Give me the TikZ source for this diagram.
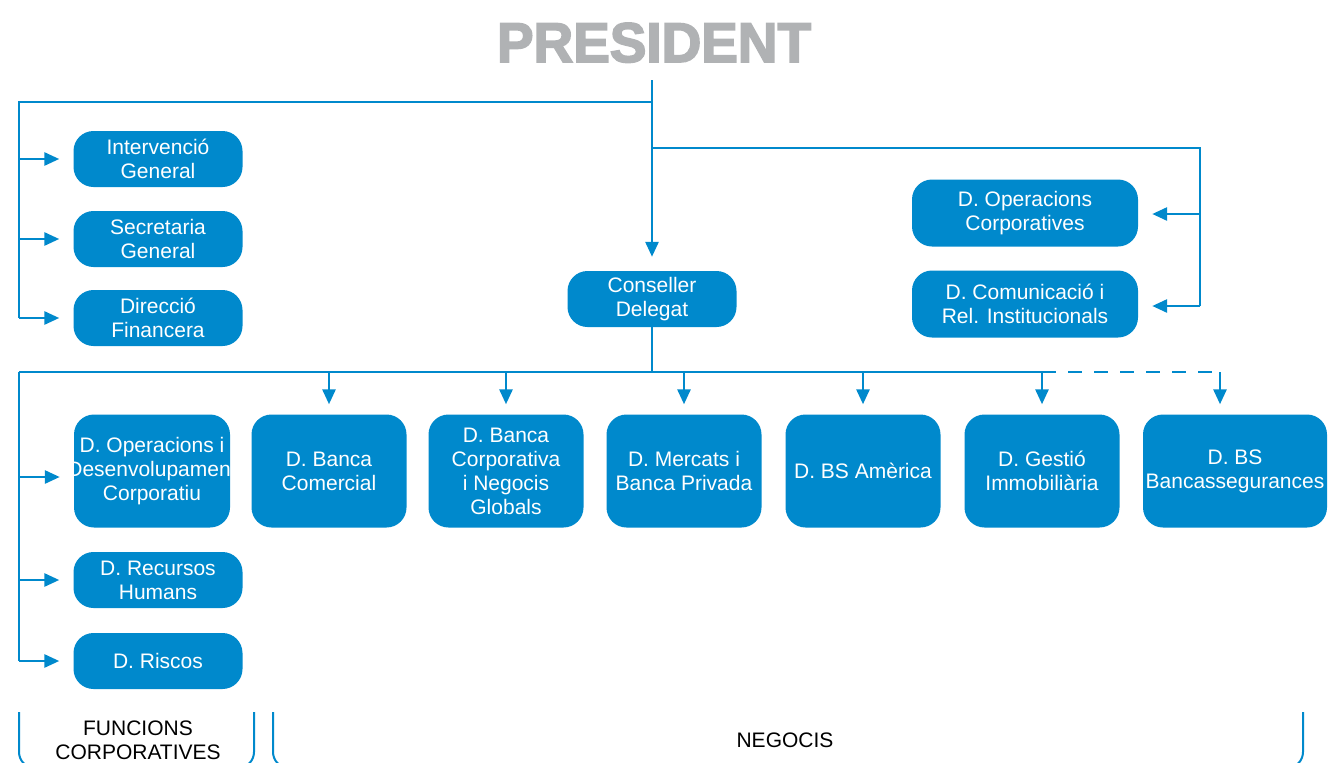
\documentclass[tikz,border=0pt]{standalone}
\usepackage{fontspec}
\setmainfont{Liberation Sans}
\newfontfamily\presfont{Liberation Sans Bold}[FakeBold=3, FakeStretch=0.98]
\usepackage{tikz}
\usetikzlibrary{arrows.meta, positioning, calc}

\definecolor{caixablue}{RGB}{0,137,204}
\definecolor{presgray}{RGB}{176,178,180}

\tikzset{
    line/.style={caixablue, line width=2.8pt},
    arrow/.style={line, -{Triangle[length=15pt,width=13pt]}, shorten >=14pt},
    unit/.style={fill=caixablue, text=white, rounded corners=20pt, inner sep=0pt,
        align=center, font=\fontsize{21}{24}\selectfont},
    small/.style={unit, minimum width=169pt, minimum height=56pt},
    tall/.style={unit, minimum width=155pt, minimum height=113pt},
    brace/.style={line, line width=2pt, rounded corners=16pt},
}

\begin{document}
\begin{tikzpicture}[x=1pt, y=-1pt]
        \useasboundingbox (0,0) rectangle (1328,763);
        \clip (0,0) rectangle (1328,763);

        % top
        \node[anchor=base, text=presgray, font=\presfont\fontsize{56}{56}\selectfont] (pres) at (654,62) {PRESIDENT};
        \node[small] (cons) at (652,299) {Conseller\\Delegat};

        % functions hanging from the president
        \node[small] (int)  at (158,159) {Intervenció\\General};
        \node[small] (sec)  at (158,239) {Secretaria\\General};
        \node[small] (fin)  at (158,318) {Direcció\\Financera};
        \node[unit, minimum width=226pt, minimum height=67pt] (opc) at (1025,213) {D. Operacions\\Corporatives};
        \node[unit, minimum width=226pt, minimum height=67pt] (com) at (1025,304) {D. Comunicació i\\Rel. Institucionals};

        % functions under the conseller
        \node[tall, minimum width=156pt] (dop) at (152,471) {D. Operacions i\\\makebox[0pt]{Desenvolupament}\\Corporatiu};
        \node[small] (rrhh) at (158,580) {D. Recursos\\Humans};
        \node[small] (risc) at (158,661) {D. Riscos};

        % business units
        \node[tall] (bcom)  at (329,471) {D. Banca\\Comercial};
        \node[tall] (bcorp) at (506,471) {D. Banca\\Corporativa\\i Negocis\\Globals};
        \node[tall] (merc)  at (684,471) {D. Mercats i\\Banca Privada};
        \node[tall] (bsam)  at (863,471) {D. BS Amèrica};
        \node[tall] (gest)  at (1042,471) {D. Gestió\\Immobiliària};
        \node[tall, minimum width=184pt] (bsb) at (1235,471) {D. BS\\Bancassegurances};

        % connectors from the president
        \coordinate (top) at (652,80);
        \coordinate (jl) at (652,102);
        \coordinate (lt) at (19,102);
        \coordinate (jr) at (652,148);
        \coordinate (rt) at (1200,148);
        \draw[arrow] (top) -- (cons.north);
        \draw[line] (jl) -- (lt) -- (lt |- fin);
        \foreach \n in {int,sec,fin}
            \draw[arrow] (lt |- \n) -- (\n.west);
        \draw[line] (jr) -- (rt) -- ($(rt |- com)+(0,2)$);
        \draw[arrow] ($(rt |- opc)+(0,1)$) -- ($(opc.east)+(0,1)$);
        \draw[arrow] ($(rt |- com)+(0,2)$) -- ($(com.east)+(0,2)$);

        % connectors from the conseller
        \coordinate (bus) at (652,372);
        \coordinate (bl) at (19,372);
        \coordinate (bsdrop) at (1220,372);
        \draw[line] (cons.south) -- (bus);
        \draw[line] (bl) -- (gest.north |- bus);
        \draw[line, dash pattern=on 14pt off 12pt] (gest.north |- bus) -- (bsdrop);
        \foreach \n in {bcom,bcorp,merc,bsam,gest}
            \draw[arrow, shorten >=10pt] (\n.north |- bus) -- (\n.north);
        \draw[arrow, shorten >=10pt] (bsdrop) -- (bsdrop |- bsb.north);
        \draw[line] (bl) -- (bl |- risc);
        \draw[arrow] ($(bl |- dop)+(0,6)$) -- ($(dop.west)+(0,6)$);
        \draw[arrow] (bl |- rrhh) -- (rrhh.west);
        \draw[arrow] (bl |- risc) -- (risc.west);

        % groups at the foot
        \draw[brace] (19,712) -- (19,768) -- (254,768) -- (254,712);
        \draw[brace] (273,712) -- (273,768) -- (1303,768) -- (1303,712);
        \node[align=center, font=\fontsize{21}{24}\selectfont] (fc) at (138,740) {FUNCIONS\\CORPORATIVES};
        \node[font=\fontsize{21}{24}\selectfont] (neg) at (785,740) {NEGOCIS};
    \end{tikzpicture}
\end{document}
